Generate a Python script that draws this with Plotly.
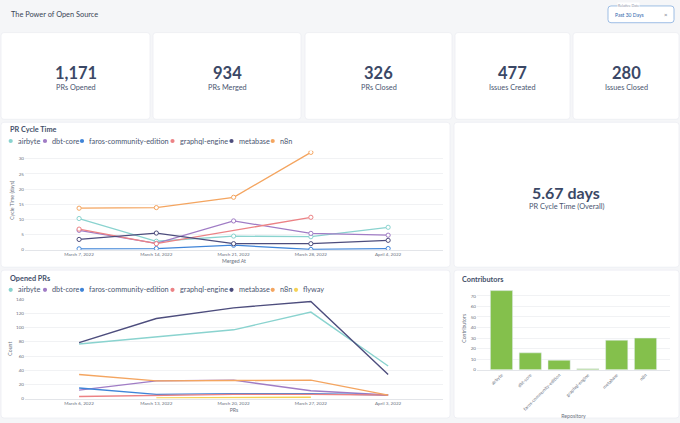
import plotly.graph_objects as go

W, H = 680, 423
FONT = "Lato"

# ---------------- data ----------------
dashboard_title = "The Power of Open Source"
date_filter_label = "Relative Date"
date_filter_value = "Past 30 Days"

kpi_labels = ["PRs Opened", "PRs Merged", "PRs Closed", "Issues Created", "Issues Closed"]
kpi_values = [1171, 934, 326, 477, 280]

overall_cycle_days = 5.67
overall_cycle_label = "PR Cycle Time (Overall)"

series_names = ["airbyte", "dbt-core", "faros-community-edition", "graphql-engine",
                "metabase", "n8n", "flyway"]
series_colors = ["#8ad3cf", "#a07cc5", "#3f84d8", "#ec8285", "#4d4d7d", "#f4a560", "#f5d155"]

cycle_weeks = ["March 7, 2022", "March 14, 2022", "March 21, 2022", "March 28, 2022", "April 4, 2022"]
cycle_airbyte = [10.3, 2.8, 4.5, 4.3, 7.4]
cycle_dbt_core = [6.4, 2.1, 9.5, 5.4, 4.8]
cycle_faros = [0.3, 0.4, 1.5, 0.1, 0.4]
cycle_graphql = [6.8, 2.0, None, 10.7, None]
cycle_metabase = [3.4, 5.5, 2.0, 2.0, 3.1]
cycle_n8n = [13.7, 13.9, 17.3, 32.1, None]

opened_weeks = ["March 6, 2022", "March 13, 2022", "March 20, 2022", "March 27, 2022", "April 3, 2022"]
opened_airbyte = [77, 87, 97, 122, 46]
opened_dbt_core = [12, 25, 26, 11, 5]
opened_faros = [15, 6, 7, 7, 5]
opened_graphql = [3, 5, 6, 6, 5]
opened_metabase = [79, 113, 128, 137, 34]
opened_n8n = [34, 25, 25.5, 26, 5]
opened_flyway = [None, 1, 2, 2, None]

repos = ["airbyte", "dbt-core", "faros-community-edition", "graphql-engine", "metabase", "n8n"]
contributors = [75, 16, 9, 1, 28, 30]

# ---------------- helpers ----------------
def X(x):
    return x / W


def Y(y):
    return 1 - y / H


def rrect(x0, y0, x1, y1, r=3, fill="#ffffff", line="#eceef2"):
    p = (f"M {X(x0+r)},{Y(y0)} L {X(x1-r)},{Y(y0)} Q {X(x1)},{Y(y0)} {X(x1)},{Y(y0+r)} "
         f"L {X(x1)},{Y(y1-r)} Q {X(x1)},{Y(y1)} {X(x1-r)},{Y(y1)} "
         f"L {X(x0+r)},{Y(y1)} Q {X(x0)},{Y(y1)} {X(x0)},{Y(y1-r)} "
         f"L {X(x0)},{Y(y0+r)} Q {X(x0)},{Y(y0)} {X(x0+r)},{Y(y0)} Z")
    return dict(type="path", path=p, xref="paper", yref="paper", fillcolor=fill,
                line=dict(color=line, width=0.8), layer="below")


def text(x, y, s, size, color="#3d4862", xanchor="center", weight="normal", **kw):
    return dict(x=X(x), y=Y(y), xref="paper", yref="paper", text=s, showarrow=False,
                xanchor=xanchor, yanchor="middle",
                font=dict(family=FONT, size=size, color=color, weight=weight), **kw)


fig = go.Figure()
shapes = []
annotations = []

# ---------------- cards ----------------
kpi_cards = [(1, 150), (153, 301), (305, 452), (455, 570), (573, 679)]
for (x0, x1) in kpi_cards:
    shapes.append(rrect(x0, 30, x1, 118))
shapes.append(rrect(1, 121, 450, 268))
shapes.append(rrect(454, 121, 679, 268))
shapes.append(rrect(1, 271, 450, 421))
shapes.append(rrect(454, 271, 679, 421))

# header
annotations.append(text(8.5, 12, dashboard_title, 7.4, color="#3a4556", xanchor="left"))
shapes.append(rrect(608, 3, 674, 20, r=3, fill="#ffffff", line="#86aede"))
annotations.append(text(628, 3, date_filter_label, 3.6, color="#8a94a6",
                        bgcolor="#ffffff", borderpad=0))
annotations.append(text(613, 12, date_filter_value, 5, color="#2f66ad", xanchor="left"))
annotations.append(text(666, 12, "×", 6, color="#6b7280"))

# KPI numbers
for (x0, x1), lab, val in zip(kpi_cards, kpi_labels, kpi_values):
    cx = (x0 + x1) / 2
    annotations.append(text(cx, 71, f"{val:,}", 16.5, color="#3b4866", weight="bold"))
    annotations.append(text(cx, 86, lab, 7.3, color="#4a5570"))

# overall cycle time
annotations.append(text(566, 192, f"{overall_cycle_days:.2f} days", 16, color="#3b4866", weight="bold"))
annotations.append(text(566, 206, overall_cycle_label, 7.4, color="#4a5570"))

# card titles
annotations.append(text(8, 128, "PR Cycle Time", 7.3, color="#44506a", xanchor="left", weight="bold"))
annotations.append(text(8, 279, "Opened PRs", 7.3, color="#44506a", xanchor="left", weight="bold"))
annotations.append(text(460, 280, "Contributors", 7.3, color="#44506a", xanchor="left", weight="bold"))

# legends (dot + label)
legend_dot_x = [10.7, 45, 82, 172.5, 231.5, 272.7, 296]


def add_legend(y, n):
    for i in range(n):
        cx = legend_dot_x[i]
        r = 2.1
        shapes.append(dict(type="circle", xref="paper", yref="paper",
                           x0=X(cx - r), x1=X(cx + r), y0=Y(y + r), y1=Y(y - r),
                           fillcolor=series_colors[i], line=dict(width=0)))
        annotations.append(text(cx + 5, y, series_names[i], 7.3, color="#4a5570", xanchor="left"))


add_legend(140, 6)
add_legend(291, 7)

# ---------------- PR cycle time ----------------
cycle_series = [cycle_airbyte, cycle_dbt_core, cycle_faros, cycle_graphql, cycle_metabase, cycle_n8n]
for name, color, vals in zip(series_names, series_colors, cycle_series):
    fig.add_trace(go.Scatter(
        x=cycle_weeks, y=vals, name=name, mode="lines+markers", connectgaps=True,
        line=dict(color=color, width=1.3),
        marker=dict(size=4.2, color="#ffffff", line=dict(color=color, width=1)),
        xaxis="x", yaxis="y", showlegend=False))

# ---------------- opened PRs ----------------
opened_series = [opened_airbyte, opened_dbt_core, opened_faros, opened_graphql,
                 opened_metabase, opened_n8n, opened_flyway]
for name, color, vals in zip(series_names, series_colors, opened_series):
    fig.add_trace(go.Scatter(
        x=opened_weeks, y=vals, name=name, mode="lines",
        line=dict(color=color, width=1.4),
        xaxis="x2", yaxis="y2", showlegend=False))

# ---------------- contributors ----------------
fig.add_trace(go.Bar(x=repos, y=contributors, marker=dict(color="#84c04c"),
                     xaxis="x3", yaxis="y3", showlegend=False, name="Contributors"))

tickf = dict(family=FONT, size=4.6, color="#6b7280")
titlef = dict(family=FONT, size=5.2, color="#6b7280")
common_x = dict(type="category", showgrid=False, showline=True, linecolor="#e3e5e9",
                linewidth=0.8, ticks="", tickfont=tickf, zeroline=False, fixedrange=True)
common_y = dict(showgrid=True, gridcolor="#f1f2f4", gridwidth=0.8, zeroline=False,
                showline=False, ticks="", tickfont=tickf, fixedrange=True)

fig.update_layout(
    width=W, height=H,
    margin=dict(l=0, r=0, t=0, b=0),
    paper_bgcolor="#f5f6f8",
    plot_bgcolor="rgba(0,0,0,0)",
    font=dict(family=FONT),
    bargap=0.23,
    hovermode=False,
    xaxis=dict(common_x, domain=[X(25), X(443)], anchor="y", range=[-0.7, 4.71],
               title=dict(text="Merged At", font=titlef, standoff=3)),
    yaxis=dict(common_y, domain=[Y(250.3), Y(150)], anchor="x", range=[0, 32.6], dtick=5,
               title=dict(text="Cycle Time (days)", font=titlef, standoff=3)),
    xaxis2=dict(common_x, domain=[X(25), X(443)], anchor="y2", range=[-0.7, 4.71],
                title=dict(text="PRs", font=titlef, standoff=3)),
    yaxis2=dict(common_y, domain=[Y(401.3), Y(300)], anchor="x2", range=[0, 140.8], dtick=20,
                title=dict(text="Count", font=titlef, standoff=3)),
    xaxis3=dict(common_x, domain=[X(477), X(670)], anchor="y3", range=[-0.85, 5.85],
                tickangle=-45, title=dict(text="Repository", font=titlef, standoff=3)),
    yaxis3=dict(common_y, domain=[Y(372), Y(288)], anchor="x3", range=[0, 78.5], dtick=10,
                title=dict(text="Contributors", font=titlef, standoff=3)),
    shapes=shapes,
    annotations=annotations,
)

fig.write_html(
    "out.html",
    config={"displayModeBar": False},
    post_script="document.body.style.margin='0';document.body.style.overflow='hidden';",
)
